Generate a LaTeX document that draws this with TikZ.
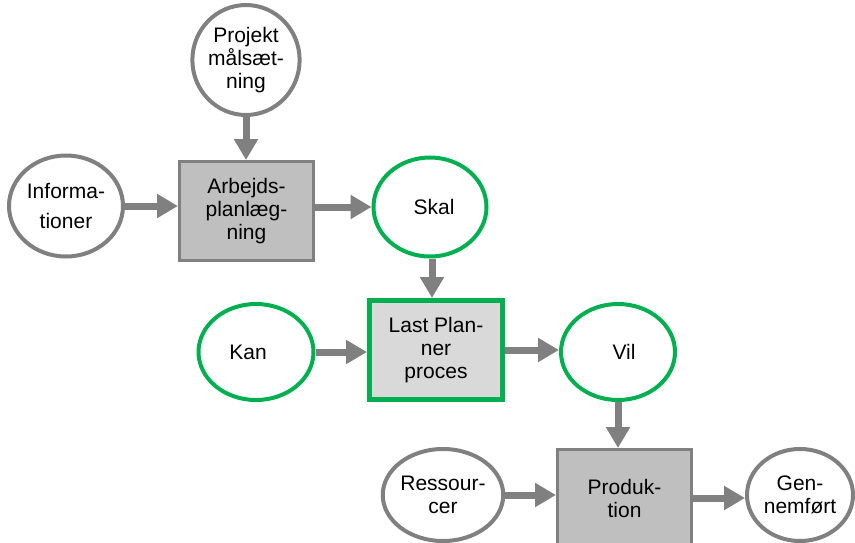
\documentclass[tikz,border=0pt]{standalone}
\usepackage{fontspec}
\setmainfont{Liberation Sans}
\usetikzlibrary{arrows.meta,shapes.geometric}
\definecolor{agray}{HTML}{808080}
\definecolor{egray}{HTML}{808080}
\definecolor{lgreen}{HTML}{00B050}
\definecolor{boxfill}{HTML}{BFBFBF}
\definecolor{lpfill}{HTML}{D9D9D9}
\begin{document}
\begin{tikzpicture}[x=1pt,y=-1pt,
  every node/.style={font=\fontsize{21}{23}\selectfont, align=center, inner sep=0pt},
  grayell/.style={ellipse, draw=egray, line width=4pt, fill=white},
  greenell/.style={ellipse, draw=lgreen, line width=4pt, fill=white},
  graybox/.style={rectangle, draw=egray, line width=3pt, fill=boxfill},
  lpbox/.style={rectangle, draw=lgreen, line width=5pt, fill=lpfill},
  arr/.style={draw=agray, line width=7pt, -{Triangle[width=23pt,length=21pt]}, fill=agray}
]
\fill[white] (0,0) rectangle (855,542);
\clip (0,0) rectangle (855,542);
% nodes
\node[grayell, minimum width=106pt, minimum height=110pt] (proj) at (246,60) {Projekt\\målsæt-\\ning};
\node[graybox, minimum width=134pt, minimum height=99pt] (arb) at (246.5,211) {Arbejds-\\planlæg-\\ning};
\node[grayell, minimum width=114pt, minimum height=101pt, font=\fontsize{21}{30}\selectfont] (inf) at (66,206) {Informa-\\tioner};
\node[greenell, minimum width=113pt, minimum height=99pt] (skal) at (430,207) {\hspace*{8pt}Skal};
\node[lpbox, minimum width=133pt, minimum height=99pt] (lp) at (436,350) {Last Plan-\\ner\\proces};
\node[greenell, minimum width=115pt, minimum height=96pt] (kan) at (256,352) {Kan\hspace*{16pt}};
\node[greenell, minimum width=114pt, minimum height=96pt] (vil) at (618,352) {\hspace*{12pt}Vil};
\node[graybox, minimum width=134pt, minimum height=97pt] (prod) at (624.5,498) {Produk-\\tion};
\node[grayell, minimum width=114pt, minimum height=92pt] (res) at (443,495) {Ressour-\\cer};
\node[grayell, minimum width=106pt, minimum height=92pt] (gen) at (800,495) {Gen-\\nemført};
% arrows
\draw[arr] (proj.south) -- (proj.south |- arb.north);
\draw[arr] (inf.east) -- (inf.east -| arb.west);
\draw[arr] (skal.west -| arb.east) -- (skal.west);
\draw[arr] ([xshift=2pt]skal.south) -- ([xshift=2pt]skal.south |- lp.north);
\draw[arr] (kan.east) -- (kan.east -| lp.west);
\draw[arr] (lp.east) -- (lp.east -| vil.west);
\draw[arr] (vil.south) -- (vil.south |- prod.north);
\draw[arr] (res.east) -- (res.east -| prod.west);
\draw[arr] (prod.east) -- (prod.east -| gen.west);
\end{tikzpicture}
\end{document}
